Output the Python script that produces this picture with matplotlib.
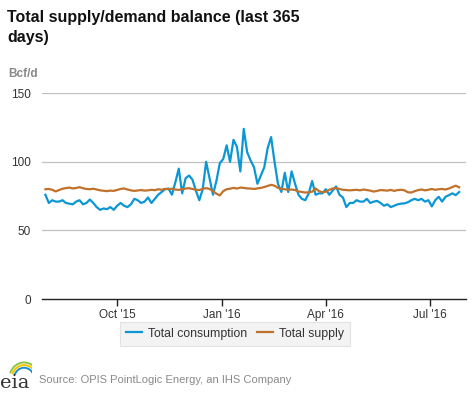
import numpy as np
import pandas as pd
import matplotlib.pyplot as plt
import matplotlib.dates as mdates
from matplotlib.patches import Arc

plt.rcParams['font.family'] = ['Liberation Sans', 'DejaVu Sans']

# Values, one every 3 days from 30 Jul 2015
dates = pd.date_range('2015-07-30', periods=122, freq='3D')

consumption = [
    76, 70, 72, 71, 71, 72, 70, 69.5, 69, 71,
    72, 69, 70, 72.5, 70, 67, 65, 66, 65.5, 67,
    65, 68, 70, 68, 67, 69, 73, 72, 70, 71,
    74, 70, 73, 76, 78, 80, 80.5, 76, 85, 95,
    77, 88, 90, 87, 79, 72, 80, 100, 88, 76,
    86, 99, 102, 112, 100, 116, 111, 93, 124, 107,
    101, 96, 84, 90, 96, 110, 118, 100, 84, 78,
    92, 78, 93, 84, 76, 73, 72, 77, 86, 76,
    77, 77, 80, 76, 79, 82, 76, 74, 67, 70,
    70, 72, 71, 71, 73, 70, 71, 71.5, 70, 68,
    69, 67, 68, 69, 69.5, 69.7, 70.5, 72, 73, 72,
    73, 71, 72, 67.5, 72, 74.5, 71, 74.5, 75.7, 77,
    75.7, 78,
]

supply = [
    80, 80.2, 79.6, 78.4, 79.4, 80.4, 80.8, 81.2, 80.6, 80.9,
    81.5, 80.7, 80.2, 80.0, 80.4, 79.8, 79.2, 78.9, 78.6, 79.0,
    78.8, 79.5, 80.2, 80.6, 79.8, 79.2, 78.8, 79.1, 79.4, 79.0,
    79.2, 79.6, 79.3, 80.0, 79.6, 80.3, 80.0, 80.4, 79.8, 79.5,
    80.0, 80.5, 80.8, 80.2, 79.6, 79.4, 80.3, 80.8, 80.2, 78.6,
    76.8, 75.5, 78.6, 80.0, 80.4, 81.0, 80.5, 81.2, 81.0, 80.6,
    80.5, 80.2, 80.6, 81.0, 81.6, 82.4, 83.2, 82.6, 81.0, 80.2,
    80.0, 79.6, 79.8, 79.4, 78.4, 78.0, 77.6, 77.8, 78.2, 80.6,
    78.6, 77.8, 78.2, 79.6, 80.5, 80.8, 80.2, 79.6, 79.4, 79.2,
    79.4, 79.6, 79.2, 79.8, 79.4, 79.0, 78.3, 78.8, 79.4, 79.2,
    79.0, 79.5, 78.8, 79.4, 79.6, 79.2, 77.8, 77.6, 78.6, 79.4,
    79.8, 79.2, 79.6, 80.2, 79.6, 80.0, 80.2, 79.8, 80.5, 81.6,
    82.6, 81.4,
]

tick_dates = pd.to_datetime(['2015-10-01', '2016-01-01', '2016-04-01', '2016-07-01'])
tick_labels = ["Oct '15", "Jan '16", "Apr '16", "Jul '16"]

blue = '#0b97d6'
brown = '#c0722c'

fig = plt.figure(figsize=(4.77, 3.93), dpi=100)
ax = fig.add_axes([0.088, 0.239, 0.889, 0.524])

ax.plot(dates, consumption, color=blue, lw=1.6, label='Total consumption', zorder=3)
ax.plot(dates, supply, color=brown, lw=1.6, label='Total supply', zorder=3)

ax.set_ylim(0, 150)
ax.set_yticks([0, 50, 100, 150])
ax.set_xlim(pd.Timestamp('2015-07-27'), pd.Timestamp('2016-08-02'))
ax.set_xticks(tick_dates)
ax.set_xticklabels(tick_labels)

for v in [50, 100, 150]:
    ax.axhline(v, color='#c0c0c0', lw=0.9, zorder=1)

for s in ['top', 'right', 'left']:
    ax.spines[s].set_visible(False)
ax.spines['bottom'].set_color('#222222')
ax.spines['bottom'].set_linewidth(1.0)
ax.tick_params(axis='y', length=0, labelsize=8.5, labelcolor='#333333', pad=8)
ax.tick_params(axis='x', length=5, width=1, color='#222222', labelsize=8.5,
               labelcolor='#333333', pad=2)

fig.text(0.015, 0.945, 'Total supply/demand balance (last 365', fontsize=11.5,
         fontweight='bold', color='#111111', va='baseline')
fig.text(0.015, 0.893, 'days)', fontsize=11.5, fontweight='bold', color='#111111',
         va='baseline')
fig.text(0.017, 0.805, 'Bcf/d', fontsize=8.5, fontweight='bold', color='#888888',
         va='baseline')

leg = ax.legend(loc='center', bbox_to_anchor=(0.493, 0.151),
                bbox_transform=fig.transFigure, ncol=2, frameon=True,
                fancybox=False, fontsize=8.8, handlelength=1.3, handletextpad=0.5,
                columnspacing=0.8, borderpad=0.5)
leg.get_frame().set_facecolor('#f0f0f0')
leg.get_frame().set_edgecolor('#dddddd')
leg.get_frame().set_linewidth(0.8)
for t in leg.get_texts():
    t.set_color('#333333')

# eia logo
fig.text(0.0, 0.012, 'eia', fontsize=14, family='DejaVu Serif', color='#333333',
         va='baseline')
logo = fig.add_axes([0.012, 0.045, 0.055, 0.05])
logo.set_xlim(0, 1)
logo.set_ylim(0, 1)
logo.axis('off')
for r, c in [(0.95, '#8dc63f'), (0.8, '#f4c300'), (0.65, '#1a8fd0')]:
    logo.add_patch(Arc((0.7, -0.2), r * 1.2, r * 1.8, theta1=40, theta2=150,
                       color=c, lw=1.4))

fig.text(0.082, 0.026, 'Source: OPIS PointLogic Energy, an IHS Company', fontsize=8,
         color='#8a8a8a', va='baseline')

fig.savefig('out.png', dpi=100, facecolor='white')
